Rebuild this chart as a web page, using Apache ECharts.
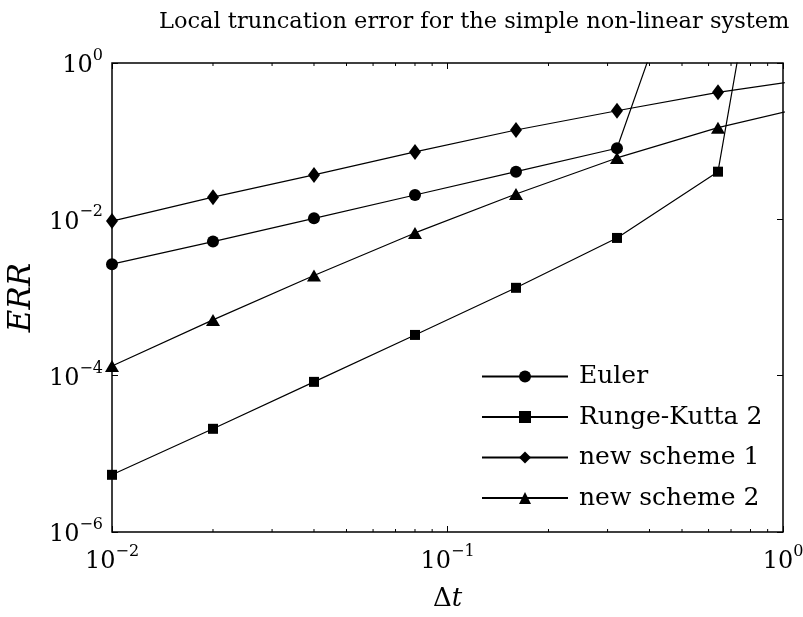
<!DOCTYPE html>
<html>
<head>
<meta charset="utf-8">
<script src="https://cdn.jsdelivr.net/npm/echarts@6/dist/echarts.min.js"></script>
<style>
  html, body { margin: 0; padding: 0; background: #fff; }
  #chart { width: 803px; height: 617px; }
</style>
</head>
<body>
<div id="chart"></div>
<script>
// step sizes
const dt = [0.01, 0.02, 0.04, 0.08, 0.16, 0.32, 0.64, 1.28]
// local truncation error per scheme
const euler = [2.67e-3, 5.19e-3, 1.03e-2, 2.05e-2, 4.07e-2, 8.11e-2, 380]
const rk2 = [5.39e-6, 2.09e-5, 8.33e-5, 3.32e-4, 1.33e-3, 5.78e-3, 4.07e-2, 9.8e5]
const scheme1 = [9.5e-3, 1.92e-2, 3.7e-2, 7.28e-2, 0.139, 0.245, 0.422, 0.65]
const scheme2 = [1.33e-4, 5.17e-4, 1.91e-3, 6.7e-3, 2.11e-2, 6.1e-2, 0.149, 0.3]
const names = ['Euler', 'Runge-Kutta 2', 'new scheme 1', 'new scheme 2']
// minor ticks on the x axis
const xMinor = [0.02, 0.03, 0.04, 0.05, 0.06, 0.07, 0.08, 0.09, 0.2, 0.3, 0.4, 0.5, 0.6, 0.7, 0.8, 0.9]

const serif = '"DejaVu Serif", "Liberation Serif", serif'

const chart = echarts.init(document.getElementById('chart'))

function pairs(ys) {
  return ys.map((y, i) => [dt[i], y])
}

function powLabel(value) {
  const e = Math.round(Math.log10(value))
  return '{b|10}{e|' + (e < 0 ? '\u2212' + (-e) : e) + '}'
}

const powRich = {
  b: { fontFamily: serif, fontSize: 24, color: '#000', verticalAlign: 'bottom', lineHeight: 30 },
  e: { fontFamily: serif, fontSize: 16, color: '#000', verticalAlign: 'top', lineHeight: 16 },
}

function lineSeries(name, ys, symbol, size) {
  return {
    name: name,
    type: 'line',
    data: pairs(ys),
    symbol: symbol,
    symbolSize: size,
    showSymbol: true,
    clip: true,
    lineStyle: { color: '#000', width: 1.2 },
    itemStyle: { color: '#000' },
    emphasis: { disabled: true },
    z: 3,
  }
}

const axisBase = {
  type: 'log',
  logBase: 10,
  axisLine: { show: false },
  splitLine: { show: false },
}

const tickStyle = { show: true, inside: true, length: 6, lineStyle: { color: '#000', width: 1 } }

const option = {
  backgroundColor: '#fff',
  animation: false,
  title: {
    text: 'Local truncation error for the simple non-linear system',
    left: 159,
    top: 11,
    padding: 0,
    textStyle: { fontFamily: serif, fontSize: 22.5, fontWeight: 'normal', color: '#000' },
  },
  grid: {
    left: 112,
    right: 20,
    top: 63,
    bottom: 85,
    outerBoundsMode: 'none',
    containLabel: false,
    show: true,
    borderColor: '#000',
    borderWidth: 1.5,
    backgroundColor: 'transparent',
  },
  legend: {
    orient: 'vertical',
    left: 481,
    top: 364,
    padding: 0,
    itemWidth: 86,
    itemHeight: 15,
    itemGap: 15.5,
    textStyle: { fontFamily: serif, fontSize: 25, color: '#000', padding: [0, 0, 0, 6] },
    data: names,
  },
  xAxis: [
    Object.assign({}, axisBase, {
      min: 0.01,
      max: 1,
      position: 'bottom',
      name: '{a|\u0394}{b|t}',
      nameLocation: 'middle',
      nameGap: 54,
      nameTextStyle: {
        rich: {
          a: { fontFamily: serif, fontSize: 26, color: '#000' },
          b: { fontFamily: serif, fontSize: 26, fontStyle: 'italic', color: '#000' },
        },
      },
      axisTick: tickStyle,
      axisLabel: { formatter: powLabel, rich: powRich, margin: 12 },
    }),
    Object.assign({}, axisBase, {
      min: 0.01,
      max: 1,
      position: 'top',
      axisTick: tickStyle,
      axisLabel: { show: false },
    }),
  ],
  yAxis: [
    Object.assign({}, axisBase, {
      min: 1e-6,
      max: 1,
      interval: 2,
      position: 'left',
      name: 'ERR',
      nameLocation: 'middle',
      nameRotate: 90,
      nameGap: 75,
      nameTextStyle: { fontFamily: serif, fontSize: 31, fontStyle: 'italic', color: '#000' },
      axisTick: tickStyle,
      axisLabel: { formatter: powLabel, rich: powRich, margin: 9 },
    }),
    Object.assign({}, axisBase, {
      min: 1e-6,
      max: 1,
      interval: 2,
      position: 'right',
      axisTick: tickStyle,
      axisLabel: { show: false },
    }),
  ],
  series: [
    lineSeries(names[0], euler, 'circle', 12),
    lineSeries(names[1], rk2, 'rect', 10),
    lineSeries(names[2], scheme1, 'diamond', [12, 16]),
    lineSeries(names[3], scheme2, 'triangle', [14, 12]),
    {
      // minor ticks at 2..9 x 10^k, top and bottom of the box
      type: 'custom',
      silent: true,
      data: xMinor.map((v) => [v]),
      encode: { x: 0 },
      clip: false,
      renderItem: function (params, api) {
        const v = api.value(0)
        const lo = api.coord([v, 1e-6])
        const hi = api.coord([v, 1])
        const style = { stroke: '#000', lineWidth: 1 }
        return {
          type: 'group',
          children: [
            { type: 'line', shape: { x1: lo[0], y1: lo[1], x2: lo[0], y2: lo[1] - 3 }, style: style },
            { type: 'line', shape: { x1: hi[0], y1: hi[1], x2: hi[0], y2: hi[1] + 3 }, style: style },
          ],
        }
      },
    },
  ],
}

chart.setOption(option)
</script>
</body>
</html>
